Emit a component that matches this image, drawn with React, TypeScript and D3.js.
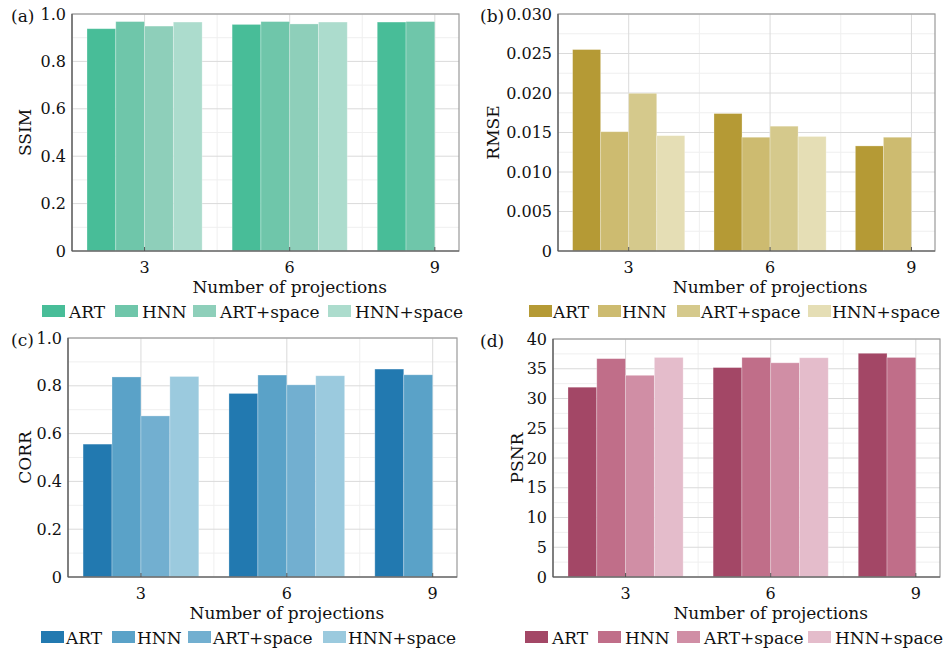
import React from 'react'
import * as d3 from 'd3'

// projections on the x axis
const categories = [3, 6, 9]
const seriesNames = ['ART', 'HNN', 'ART+space', 'HNN+space']

// values per category, in series order (9 only has ART and HNN)
const ssimValues = [
  [0.938, 0.968, 0.949, 0.966],
  [0.956, 0.968, 0.958, 0.966],
  [0.966, 0.968]
]
const rmseValues = [
  [0.0255, 0.0151, 0.01996, 0.0146],
  [0.0174, 0.0144, 0.0158, 0.0145],
  [0.0133, 0.0144]
]
const corrValues = [
  [0.556, 0.837, 0.674, 0.839],
  [0.768, 0.845, 0.804, 0.842],
  [0.87, 0.846]
]
const psnrValues = [
  [31.9, 36.7, 33.9, 36.9],
  [35.2, 36.9, 36.0, 36.85],
  [37.6, 36.9]
]

const ssimTicks = [0, 0.2, 0.4, 0.6, 0.8, 1.0]
const rmseTicks = [0, 0.005, 0.01, 0.015, 0.02, 0.025, 0.03]
const corrTicks = [0, 0.2, 0.4, 0.6, 0.8, 1.0]
const psnrTicks = [0, 5, 10, 15, 20, 25, 30, 35, 40]

const FONT = '"DejaVu Serif", serif'

const panels = [
  {
    tag: '(a)', label: 'SSIM', values: ssimValues, ticks: ssimTicks, max: 1,
    fmt: (v: number) => (v === 0 ? '0' : d3.format('.1f')(v)),
    colors: ['#48bd98', '#6fc6aa', '#8ecfba', '#acdccd'],
    box: { left: 72, right: 459, top: 14, bottom: 251 },
    tagX: 11, labelX: 25, legendX: [42, 115, 193, 328], legendGap: 4
  },
  {
    tag: '(b)', label: 'RMSE', values: rmseValues, ticks: rmseTicks, max: 0.03,
    fmt: (v: number) => (v === 0 ? '0' : d3.format('.3f')(v)),
    colors: ['#b59a35', '#cdbb70', '#d5c98c', '#e5deb5'],
    box: { left: 558, right: 935, top: 14, bottom: 251 },
    tagX: 480, labelX: 493, legendX: [529, 598, 677, 808], legendGap: 1
  },
  {
    tag: '(c)', label: 'CORR', values: corrValues, ticks: corrTicks, max: 1,
    fmt: (v: number) => (v === 0 ? '0' : d3.format('.1f')(v)),
    colors: ['#2279b0', '#5aa2c8', '#72afd0', '#9bcade'],
    box: { left: 68, right: 457, top: 338, bottom: 577 },
    tagX: 11, labelX: 25, legendX: [41, 112, 188, 323], legendGap: 2
  },
  {
    tag: '(d)', label: 'PSNR', values: psnrValues, ticks: psnrTicks, max: 40,
    fmt: (v: number) => String(v),
    colors: ['#a34766', '#c06e89', '#d08ea5', '#e4bccb'],
    box: { left: 553, right: 940, top: 339, bottom: 577 },
    tagX: 480, labelX: 517, legendX: [525, 598, 677, 808], legendGap: 4
  }
]

function Panel({ p }: { p: typeof panels[0] }) {
  const { box } = p
  const x = d3.scaleLinear().domain([1.5, 9.5]).range([box.left, box.right])
  const y = d3.scaleLinear().domain([0, p.max]).range([box.bottom, box.top])
  const barW = 0.595
  const groupStart = (c: number) => c - barW * 2

  const step = p.ticks[1] - p.ticks[0]
  const minorY = p.ticks.slice(0, -1).map(t => t + step / 2)
  const minorX = [1.5, 4.5, 7.5]

  return (
    <g>
      {/* grid */}
      {minorY.map(t => (
        <line key={'my' + t} x1={box.left} x2={box.right} y1={y(t)} y2={y(t)} stroke="#efefef" />
      ))}
      {minorX.map(t => (
        <line key={'mx' + t} x1={x(t)} x2={x(t)} y1={box.top} y2={box.bottom} stroke="#efefef" />
      ))}
      {p.ticks.map(t => (
        <line key={'gy' + t} x1={box.left} x2={box.right} y1={y(t)} y2={y(t)} stroke="#dadada" />
      ))}
      {categories.map(c => (
        <line key={'gx' + c} x1={x(c)} x2={x(c)} y1={box.top} y2={box.bottom} stroke="#dadada" />
      ))}

      {/* bars */}
      {categories.map((c, ci) =>
        p.values[ci].map((v, si) => (
          <rect
            key={c + '-' + si}
            x={x(groupStart(c) + si * barW)}
            y={y(v)}
            width={x(groupStart(c) + (si + 1) * barW) - x(groupStart(c) + si * barW)}
            height={y(0) - y(v)}
            fill={p.colors[si]}
            stroke="#ffffff"
            strokeOpacity={0.35}
            strokeWidth={0.8}
          />
        ))
      )}

      {/* frame */}
      <rect x={box.left} y={box.top} width={box.right - box.left} height={box.bottom - box.top}
        fill="none" stroke="#9a9a9a" strokeWidth={1.2} />
      <line x1={box.left} x2={box.right} y1={box.bottom} y2={box.bottom} stroke="#555" strokeWidth={1.2} />
      <line x1={box.left} x2={box.left} y1={box.top} y2={box.bottom} stroke="#555" strokeWidth={1.2} />
      {categories.map(c => (
        <line key={'tk' + c} x1={x(c)} x2={x(c)} y1={box.bottom} y2={box.bottom - 4} stroke="#555" />
      ))}

      {/* y ticks */}
      {p.ticks.map(t => (
        <text key={'yt' + t} x={box.left - 6} y={y(t)} dy="0.35em" textAnchor="end"
          fontFamily={FONT} fontSize={16} fill="#111">{p.fmt(t)}</text>
      ))}
      {/* x ticks */}
      {categories.map(c => (
        <text key={'xt' + c} x={x(c)} y={box.bottom + 22} textAnchor="middle"
          fontFamily={FONT} fontSize={16} fill="#111">{c}</text>
      ))}
      <text x={x(6)} y={box.bottom + 42} textAnchor="middle" fontFamily={FONT} fontSize={17} fill="#111">
        Number of projections
      </text>
      <text transform={`translate(${p.labelX},${(box.top + box.bottom) / 2}) rotate(-90)`}
        textAnchor="middle" dy="0.35em" fontFamily={FONT} fontSize={17} fill="#111">{p.label}</text>
      <text x={p.tagX} y={box.top + 8} fontFamily={FONT} fontSize={17} fill="#111">{p.tag}</text>

      {/* legend */}
      {seriesNames.map((s, si) => (
        <g key={'lg' + s}>
          <rect x={p.legendX[si]} y={box.bottom + 54} width={23} height={12} fill={p.colors[si]} />
          <text x={p.legendX[si] + 23 + p.legendGap} y={box.bottom + 67} fontFamily={FONT}
            fontSize={17} fill="#111">{s}</text>
        </g>
      ))}
    </g>
  )
}

export default function App() {
  return (
    <svg width={946} height={652} style={{ position: 'absolute', left: 0, top: 0, background: '#fff' }}>
      <rect width={946} height={652} fill="#fff" />
      {panels.map(p => <Panel key={p.tag} p={p} />)}
    </svg>
  )
}
